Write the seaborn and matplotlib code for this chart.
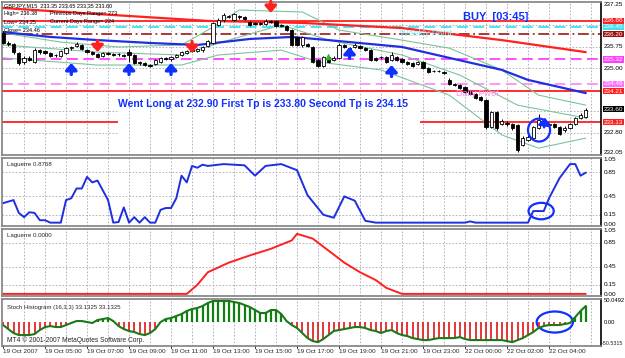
import matplotlib
matplotlib.use("Agg")
import matplotlib.pyplot as plt
import seaborn as sns
import pandas as pd
import numpy as np
from matplotlib.patches import Ellipse

sns.set_theme(style="white")
plt.rcParams['font.family'] = ['Liberation Sans', 'DejaVu Sans']

W, H = 625, 358

# ---- GBPJPY M15 candles (bar index 0..111) ----
opens = [236.24, 235.89, 235.85, 235.54, 235.23, 235.37, 235.23, 235.64, 235.61, 235.54,
         235.47, 235.43, 235.54, 235.71, 235.78, 235.82, 235.64, 235.57, 235.50, 235.43,
         235.54, 235.50, 235.50, 235.47, 235.57, 235.47, 235.23, 235.19, 235.12, 235.16,
         235.23, 235.37, 235.33, 235.40, 235.47, 235.54, 235.61, 235.61, 235.64, 235.78,
         235.89, 236.52, 236.69, 236.80, 236.69, 236.83, 236.80, 236.62, 236.59, 236.59,
         236.55, 236.66, 236.66, 236.52, 236.48, 236.34, 236.10, 235.82, 235.85, 235.75,
         235.30, 235.09, 235.40, 235.30, 235.37, 235.82, 235.71, 235.75, 235.78, 235.71,
         235.64, 235.37, 235.40, 235.40, 235.30, 235.40, 235.33, 235.23, 235.19, 235.16,
         235.23, 235.02, 234.91, 234.91, 234.88, 234.60, 234.46, 234.42, 234.35, 234.21,
         234.11, 234.00, 233.90, 232.96, 233.48, 233.06, 233.10, 233.06, 233.03, 232.33,
         232.50, 232.57, 232.92, 233.10, 233.03, 233.06, 232.96, 232.85, 232.92, 233.06,
         233.27, 233.31]
closes = [235.89, 235.85, 235.57, 235.19, 235.37, 235.30, 235.64, 235.57, 235.54, 235.43,
          235.47, 235.61, 235.71, 235.75, 235.85, 235.68, 235.57, 235.50, 235.40, 235.54,
          235.50, 235.47, 235.50, 235.43, 235.47, 235.19, 235.19, 235.12, 235.09, 235.30,
          235.37, 235.33, 235.40, 235.47, 235.57, 235.61, 235.64, 235.68, 235.75, 235.96,
          236.59, 236.69, 236.87, 236.83, 236.90, 236.80, 236.73, 236.52, 236.55, 236.55,
          236.66, 236.62, 236.48, 236.48, 236.34, 235.82, 235.82, 236.10, 235.78, 235.23,
          235.09, 235.40, 235.23, 235.37, 235.82, 235.75, 235.64, 235.82, 235.71, 235.64,
          235.30, 235.30, 235.40, 235.23, 235.47, 235.30, 235.23, 235.16, 235.09, 235.23,
          235.02, 234.88, 234.91, 234.91, 234.84, 234.46, 234.42, 234.32, 234.18, 234.11,
          233.97, 233.90, 232.96, 233.48, 232.92, 233.17, 233.06, 232.92, 232.15, 232.57,
          232.61, 232.96, 233.20, 233.03, 233.06, 232.96, 232.71, 232.92, 233.06, 233.27,
          233.38, 233.55]
highs = [236.30, 235.95, 235.90, 235.57, 235.45, 235.42, 235.70, 235.68, 235.66, 235.57,
         235.52, 235.64, 235.75, 235.80, 235.92, 235.85, 235.68, 235.61, 235.54, 235.57,
         235.57, 235.54, 235.54, 235.50, 235.68, 235.50, 235.26, 235.23, 235.16, 235.33,
         235.40, 235.40, 235.45, 235.50, 235.61, 235.66, 235.68, 235.71, 235.78, 236.00,
         236.62, 236.75, 236.94, 236.88, 236.94, 236.87, 236.83, 236.66, 236.62, 236.62,
         236.73, 236.69, 236.69, 236.55, 236.52, 236.38, 236.14, 236.14, 235.89, 235.78,
         235.33, 235.43, 235.43, 235.43, 235.89, 235.85, 235.75, 235.89, 235.82, 235.75,
         235.68, 235.40, 235.45, 235.43, 235.57, 235.43, 235.37, 235.26, 235.23, 235.26,
         235.26, 235.05, 234.95, 234.95, 234.91, 234.66, 234.50, 234.46, 234.38, 234.25,
         234.14, 234.04, 233.93, 233.52, 233.52, 233.24, 233.17, 233.10, 233.06, 232.64,
         232.68, 233.00, 233.41, 233.17, 233.10, 233.10, 233.00, 232.99, 233.10, 233.31,
         233.45, 233.62]
lows = [235.85, 235.80, 235.52, 235.12, 235.16, 235.25, 235.19, 235.52, 235.50, 235.40,
        235.40, 235.40, 235.50, 235.66, 235.75, 235.64, 235.54, 235.47, 235.37, 235.40,
        235.47, 235.43, 235.45, 235.40, 235.23, 235.16, 235.12, 235.09, 235.05, 235.12,
        235.19, 235.30, 235.26, 235.37, 235.43, 235.50, 235.57, 235.57, 235.57, 235.75,
        235.85, 236.48, 236.62, 236.75, 236.66, 236.73, 236.69, 236.48, 236.52, 236.52,
        236.52, 236.59, 236.45, 236.45, 236.30, 235.78, 235.78, 235.75, 235.75, 235.19,
        235.05, 235.05, 235.19, 235.26, 235.33, 235.71, 235.61, 235.71, 235.68, 235.61,
        235.26, 235.26, 235.33, 235.19, 235.26, 235.26, 235.19, 235.12, 235.05, 235.12,
        234.98, 234.84, 234.86, 234.86, 234.80, 234.42, 234.38, 234.28, 234.14, 234.07,
        233.93, 233.86, 232.89, 232.92, 232.85, 233.03, 232.99, 232.85, 232.08, 232.29,
        232.46, 232.54, 232.89, 232.96, 232.99, 232.92, 232.68, 232.78, 232.89, 233.03,
        233.24, 233.27]

# moving averages / bands (bar, price)
blue_ma_bars = [0, 9, 18, 28, 37, 47, 55, 62, 76, 85, 95, 100, 106, 111]
blue_ma = [236.27, 236.10, 235.99, 235.89, 235.82, 236.03, 236.10, 235.99, 235.75, 235.37,
           234.95, 234.60, 234.35, 234.14]
red_ma_bars = [0, 18, 39, 57, 76, 95, 111]
red_ma = [237.11, 236.90, 236.66, 236.59, 236.41, 235.99, 235.57]
bb_up_bars = [0, 11, 22, 34, 39, 45, 57, 64, 76, 85, 95, 102, 111]
bb_up = [236.24, 235.92, 235.75, 235.82, 236.34, 237.04, 236.97, 236.34, 235.99, 235.71,
         234.95, 234.07, 233.72]
bb_mid_bars = [0, 18, 34, 43, 53, 62, 76, 87, 98, 111]
bb_mid = [235.82, 235.57, 235.47, 235.99, 236.52, 235.99, 235.47, 234.77, 233.72, 233.27]
bb_low_bars = [0, 18, 34, 41, 53, 60, 72, 85, 95, 102, 111]
bb_low = [235.37, 235.12, 235.12, 235.47, 235.64, 235.23, 234.95, 234.07, 232.68, 232.22, 232.57]

# signal arrows
buy_bars = [13, 24, 32, 66, 74]
buy_tips = [235.19, 235.19, 235.19, 235.75, 235.12]
sell_bars = [18, 36, 51]
sell_tips = [235.57, 235.54, 236.94]

# horizontal levels
level_prices = [236.66, 236.45, 236.20, 235.32, 234.46, 234.21]
level_colors = ['#ff2020', '#40e0f0', '#a52a2a', '#ff40ff', '#ff90f0', '#ff2020']
level_styles = ['-', (0, (6, 3)), (0, (6, 2, 1, 2)), (0, (6, 3)), (0, (6, 3)), '-']
trade_price = 233.13
main_grid = [236.50, 235.75, 235.00, 234.25]
split_grid = [233.50, 232.75]

# ---- indicators ----
lag1_bars = [0, 2, 3, 4, 5, 6, 7, 8, 9, 11, 12, 13, 14, 15, 16, 17, 18, 20, 21, 22, 23, 24,
             25, 26, 27, 28, 29, 30, 31, 32, 33, 34, 35, 36, 37, 38, 39, 42, 46, 48, 50, 53,
             56, 58, 61, 63, 65, 67, 69, 71, 73, 75, 88, 89, 90, 100, 101, 102, 103, 104,
             106, 108, 109, 110, 111]
lag1 = [0.34, 0.39, 0.18, 0.11, 0.19, 0.18, 0.06, 0.06, 0.02, 0.02, 0.39, 0.42, 0.58, 0.58,
        0.77, 0.68, 0.71, 0.39, 0.02, 0.03, 0.27, 0.02, 0.11, 0.02, 0.11, 0.02, 0.02, 0.23,
        0.26, 0.26, 0.42, 0.79, 0.68, 0.95, 0.92, 0.97, 0.95, 0.98, 0.96, 0.79, 0.95, 0.98,
        0.88, 0.47, 0.15, 0.10, 0.45, 0.38, 0.05, 0.02, 0.02, 0.02, 0.02, 0.04, 0.02, 0.02,
        0.21, 0.21, 0.21, 0.42, 0.75, 0.98, 0.98, 0.79, 0.84]
lag2_bars = [0, 35, 37, 39, 43, 47, 51, 55, 56, 59, 62, 65, 68, 71, 73, 76, 111]
lag2 = [0.0, 0.0, 0.15, 0.36, 0.52, 0.64, 0.75, 0.89, 1.0, 0.92, 0.72, 0.52, 0.36, 0.23,
        0.10, 0.0, 0.0]
stoch = [-5.8, -14.8, -23.7, -28.2, -28.2, -28.2, -26.0, -17.0, -10.3, -8.1,
         -10.3, -10.3, -5.8, -1.3, 3.1, 3.1, 0.9, -1.3, 5.4, 7.6,
         9.8, 3.1, -8.1, -14.8, -19.2, -21.5, -26.0, -28.2, -23.7, -14.8,
         0.9, 7.6, 9.8, 14.3, 18.8, 25.5, 30.0, 32.2, 36.7, 43.4,
         47.9, 47.9, 47.9, 47.9, 45.6, 43.4, 38.9, 34.4, 27.7, 21.0,
         21.0, 27.7, 27.7, 18.8, 3.1, -5.8, -12.5, -23.7, -35.0, -41.7,
         -44.0, -37.1, -28.2, -19.2, -17.0, -14.8, -12.5, -10.3, -10.3, -12.5,
         -17.0, -19.2, -23.7, -19.2, -17.0, -23.7, -28.2, -30.4, -35.0, -37.1,
         -39.4, -39.4, -37.1, -35.0, -35.0, -35.0, -35.0, -32.7, -37.1, -39.4,
         -39.4, -39.4, -39.4, -39.4, -39.4, -39.4, -41.7, -44.0, -39.4, -35.0,
         -28.2, -21.5, -12.5, -8.1, -5.8, -5.8, -5.8, -3.6, -1.3, 12.1,
         25.5, 36.7]

tick_bars = list(range(0, 105, 8))
tick_labels = ["19 Oct 2007", "19 Oct 05:00", "19 Oct 07:00", "19 Oct 09:00", "19 Oct 11:00",
               "19 Oct 13:00", "19 Oct 15:00", "19 Oct 17:00", "19 Oct 19:00", "19 Oct 21:00",
               "19 Oct 23:00", "22 Oct 00:00", "22 Oct 02:00", "22 Oct 04:00"]
grid_bars = list(range(4, 113, 4))

df = pd.DataFrame({'o': opens, 'c': closes, 'h': highs, 'l': lows})
df['bar'] = np.arange(len(df))

fig = plt.figure(figsize=(W / 100, H / 100), dpi=100, facecolor='white')

SMALL = 4.6


def panel(y0, y1):
    ax = fig.add_axes([2 / W, 1 - y1 / H, 599 / W, (y1 - y0) / H])
    ax.set_facecolor('white')
    ax.set_xlim(-0.2, 113.9)
    ax.set_xticks([])
    ax.set_yticks([])
    for s in ax.spines.values():
        s.set_color('#808080')
        s.set_linewidth(1.2)
    ax.spines['right'].set_color('black')
    for b in grid_bars:
        ax.axvline(b, color='#a8a8b8', lw=0.6, ls=(0, (2, 2)), zorder=0)
    return ax


def rlabel(ax, y, s, bg=None, fg='black', size=SMALL):
    kw = {}
    if bg:
        kw['bbox'] = dict(boxstyle='square,pad=0.12', fc=bg, ec='none')
    ax.text(1.004, y, s, transform=ax.get_yaxis_transform(), fontsize=size, va='center',
            ha='left', color=fg, clip_on=False, **kw)


def arrow(ax, x, tip, tail, color):
    ax.annotate('', xy=(x, tip), xytext=(x, tail),
                arrowprops=dict(arrowstyle='-|>,head_width=0.28,head_length=0.32',
                                color=color, lw=2.4, shrinkA=0, shrinkB=0), zorder=5)


# ---------------- main price panel ----------------
ax = panel(2, 155)
ax.set_ylim(231.98, 237.32)

for g in main_grid:
    ax.axhline(g, color='#a8a8b8', lw=0.6, ls=(0, (2, 2)), zorder=0)
for g in split_grid:
    ax.hlines(g, -0.2, 21.9, color='#a8a8b8', lw=0.6, linestyles=(0, (2, 2)), zorder=0)
    ax.hlines(g, 79.4, 113.9, color='#a8a8b8', lw=0.6, linestyles=(0, (2, 2)), zorder=0)
for p, c, st in zip(level_prices, level_colors, level_styles):
    ax.axhline(p, color=c, lw=1.3, ls=st, zorder=1)
ax.hlines(trade_price, -0.2, 21.9, color='#ff2020', lw=1.3, zorder=1)
ax.hlines(trade_price, 79.4, 113.9, color='#ff2020', lw=1.3, zorder=1)

for bars, vals in [(bb_up_bars, bb_up), (bb_mid_bars, bb_mid), (bb_low_bars, bb_low)]:
    sns.lineplot(x=bars, y=vals, ax=ax, color='#7cc49a', lw=0.8, zorder=2)
sns.lineplot(x=red_ma_bars, y=red_ma, ax=ax, color='#ff2020', lw=1.6, zorder=2)
sns.lineplot(x=blue_ma_bars, y=blue_ma, ax=ax, color='#1f2fe0', lw=1.6, zorder=2)

ax.vlines(df['bar'], df['l'], df['h'], color='black', lw=0.7, zorder=3)
body_lo = df[['o', 'c']].min(axis=1)
body_h = (df['c'] - df['o']).abs().clip(lower=0.012)
face = np.where(df['c'] >= df['o'], 'white', 'black')
ax.bar(df['bar'], body_h, bottom=body_lo, width=0.62, color=face, edgecolor='black',
       linewidth=0.6, zorder=4)

for b, t in zip(buy_bars, buy_tips):
    arrow(ax, b, t, t - 0.4, '#1030ff')
for b, t in zip(sell_bars, sell_tips):
    arrow(ax, b, t, t + 0.4, '#ff2020')
ax.annotate('', xy=(62, 235.62), xytext=(62, 235.25),
            arrowprops=dict(arrowstyle='-|>,head_width=0.15,head_length=0.3',
                            color='#20c020', lw=0.8), zorder=5)
ax.add_patch(Ellipse((102.1, 232.85), 4.2, 0.8, fill=False, ec='#1030ff', lw=1.6, zorder=6))
ax.annotate('', xy=(103.3, 233.38), xytext=(103.0, 232.85),
            arrowprops=dict(arrowstyle='-|>,head_width=0.3,head_length=0.35',
                            color='#1030ff', lw=1.8), zorder=6)

for y, s in [(237.25, '237.25'), (235.75, '235.75'), (235.00, '235.00'),
             (232.78, '232.80'), (232.05, '232.05')]:
    rlabel(ax, y, s)
rlabel(ax, 236.66, '236.66', '#ff2020', 'white')
rlabel(ax, 236.45, '236.45', '#40e0f0', 'white')
rlabel(ax, 236.20, '236.20', '#a01010', 'white')
rlabel(ax, 235.32, '235.32', '#ff40ff', 'white')
rlabel(ax, 234.46, '234.46', '#ff70ff', 'white')
rlabel(ax, 234.21, '234.21', '#ff2020', 'white')
rlabel(ax, 233.58, '233.60', 'black', 'white')
rlabel(ax, 233.13, '233.13', '#ff2020', 'white')


def ftext(x, y, s, **kw):
    fig.text(x / W, 1 - y / H, s, va='center', ha='left', **kw)


HDR = 4.0
ftext(4, 6, 'GBPJPY,M15  233.35 233.65 233.35 233.60', fontsize=HDR, color='black')
ftext(4, 14, 'High= 236.38', fontsize=HDR, color='black')
ftext(50, 14, 'Previous Days Range= 273', fontsize=HDR, color='black')
ftext(4, 22, 'Low= 234.25', fontsize=HDR, color='black')
ftext(50, 22, 'Current Days Range= 224', fontsize=HDR, color='black')
ftext(4, 30, 'Close= 234.46', fontsize=HDR, color='black')
ftext(463, 17, 'BUY  [03:45]', fontsize=8, color='#1030ff', weight='bold')
ftext(400, 34, 'Weekly Pivot', fontsize=6.5, color='#7ff0f8')
ftext(456, 93, 'Daily Pivot', fontsize=6.5, color='#ff90f0')
ftext(118, 104, 'Went Long at 232.90 First Tp is 233.80 Second Tp is 234.15', fontsize=7.5,
      color='#1030ff', weight='bold')

# ---------------- Laguerre 1 ----------------
ax1 = panel(158, 226)
ax1.set_ylim(-0.035, 1.08)
for lv in [0.85, 0.45, 0.15]:
    ax1.axhline(lv, color='#a8a8b8', lw=0.6, ls=(0, (2, 2)), zorder=0)
sns.lineplot(x=lag1_bars, y=lag1, ax=ax1, color='#1f2fe0', lw=1.4)
ax1.add_patch(Ellipse((102.5, 0.21), 4.8, 0.27, fill=False, ec='#1030ff', lw=1.6))
for y, s in [(1.05, '1.05'), (0.85, '0.85'), (0.45, '0.45'), (0.15, '0.15'), (-0.01, '0.00')]:
    rlabel(ax1, y, s)
ax1.text(0.008, 0.9, 'Laguerre 0.8768', transform=ax1.transAxes, fontsize=4.4, va='center')

# ---------------- Laguerre 2 ----------------
ax2 = panel(229, 296)
ax2.set_ylim(-0.035, 1.08)
for lv in [0.85, 0.45, 0.15]:
    ax2.axhline(lv, color='#a8a8b8', lw=0.6, ls=(0, (2, 2)), zorder=0)
sns.lineplot(x=lag2_bars, y=lag2, ax=ax2, color='#ff2020', lw=1.4)
for y, s in [(1.05, '1.05'), (0.85, '0.85'), (0.45, '0.45'), (0.15, '0.15'), (-0.01, '0.00')]:
    rlabel(ax2, y, s)
ax2.text(0.008, 0.9, 'Laguerre 0.0000', transform=ax2.transAxes, fontsize=4.4, va='center')

# ---------------- Stoch histogram ----------------
ax3 = panel(299, 346)
ax3.set_ylim(-52.6, 52.3)
st = np.array(stoch)
bars = np.arange(len(st))
ax3.vlines(bars[st < 0], 0, st[st < 0], color='#e02828', lw=1.3)
ax3.vlines(bars[st >= 0], 0, st[st >= 0], color='#108010', lw=1.6)
sns.lineplot(x=bars, y=st, ax=ax3, color='#1a7a1a', lw=1.5)
ax3.add_patch(Ellipse((105.1, 0.9), 6.9, 47, fill=False, ec='#1030ff', lw=1.6))
rlabel(ax3, 48.0, '50.0492', size=4.2)
rlabel(ax3, 0, '0.00', size=4.2)
ax3.text(1.002, -47.0, '-50.5315', transform=ax3.get_yaxis_transform(), fontsize=3.9,
         va='center', ha='left', clip_on=False)
ax3.text(0.008, 0.82, 'Stoch Histogram (16,3,3) 33.1325 33.1325', transform=ax3.transAxes,
         fontsize=4.3, va='center')
ax3.text(0.008, 0.12, 'MT4 \u00a9 2001-2007 MetaQuotes Software Corp.', transform=ax3.transAxes,
         fontsize=4.8, va='center')

for b, s in zip(tick_bars, tick_labels):
    ax3.text(b, -60, s, fontsize=4.6, va='top', ha='left', clip_on=False)
    ax3.plot([b, b], [-52.6, -58], color='black', lw=0.6, clip_on=False)

fig.savefig('out.png', dpi=100, facecolor='white')
